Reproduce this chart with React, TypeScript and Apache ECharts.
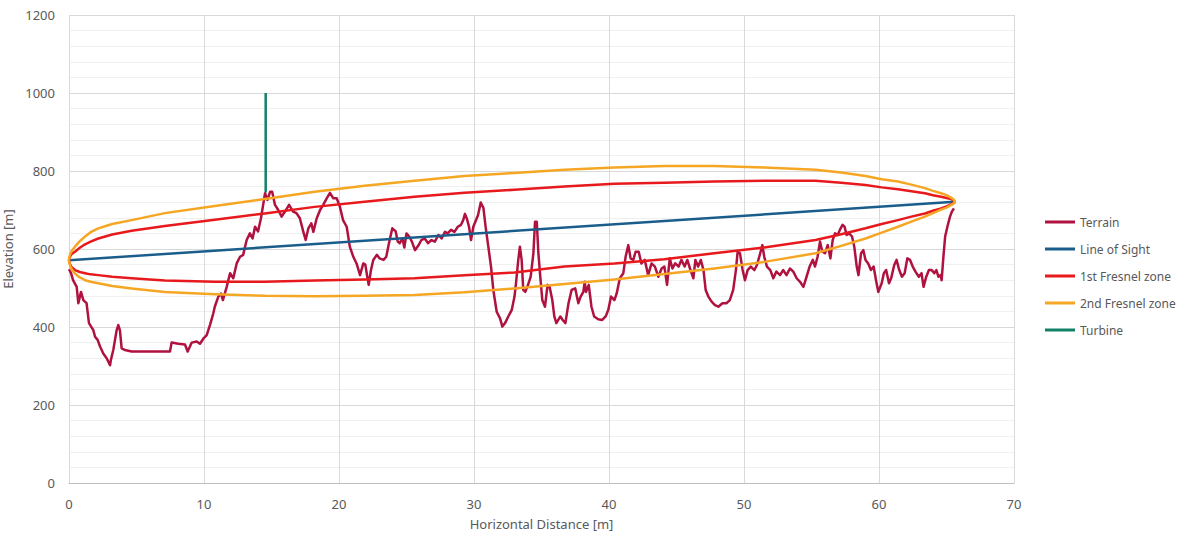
import React, { useEffect, useRef } from "react";
import * as echarts from "echarts";

// Terrain profile (distance, elevation)
const terrainX = [
  0, 0.15, 0.3, 0.57, 0.69, 0.89, 1.06, 1.3, 1.48, 1.8, 1.93, 2.12, 2.3, 2.54, 2.79, 3.04, 3.1, 3.28, 3.53, 3.65,
  3.77, 3.9, 4.15, 4.64, 7.48, 7.6, 8.1, 8.59, 8.79, 9.09, 9.46, 9.7, 9.95, 10.2, 10.44, 10.69, 10.8, 11.06, 11.26, 11.4,
  11.68, 11.93, 12.17, 12.42, 12.67, 12.9, 13.16, 13.4, 13.6, 13.78, 14.0, 14.22, 14.4, 14.52, 14.7, 14.9, 15.05, 15.26, 15.5, 15.75,
  16.0, 16.3, 16.6, 16.85, 17.1, 17.36, 17.53, 17.73, 17.95, 18.1, 18.35, 18.6, 18.83, 19.09, 19.33, 19.58, 19.83, 20.07, 20.3, 20.57,
  20.8, 21.06, 21.3, 21.56, 21.8, 21.95, 22.05, 22.2, 22.37, 22.54, 22.8, 23.0, 23.3, 23.5, 23.7, 23.95, 24.2, 24.35, 24.5, 24.7,
  24.84, 25.0, 25.2, 25.4, 25.63, 25.9, 26.1, 26.35, 26.6, 26.85, 27.1, 27.36, 27.6, 27.85, 28.05, 28.3, 28.55, 28.8, 29.04, 29.2,
  29.33, 29.46, 29.63, 29.78, 29.95, 30.1, 30.3, 30.5, 30.7, 30.86, 31.06, 31.26, 31.43, 31.68, 31.93, 32.1, 32.3, 32.54, 32.8, 33.0,
  33.12, 33.28, 33.4, 33.53, 33.65, 33.8, 34.0, 34.2, 34.4, 34.52, 34.65, 34.77, 34.9, 35.06, 35.26, 35.45, 35.6, 35.8, 35.95, 36.1,
  36.4, 36.57, 36.77, 37.0, 37.23, 37.5, 37.73, 37.9, 38.1, 38.2, 38.3, 38.5, 38.7, 38.9, 39.2, 39.5, 39.75, 39.95, 40.15, 40.4,
  40.57, 40.8, 41.06, 41.23, 41.43, 41.6, 41.8, 41.97, 42.2, 42.4, 42.65, 42.9, 43.15, 43.4, 43.65, 43.9, 44.1, 44.3, 44.5, 44.7,
  44.9, 45.16, 45.36, 45.6, 45.8, 46.0, 46.25, 46.4, 46.6, 46.8, 47.0, 47.16, 47.36, 47.6, 47.85, 48.1, 48.4, 48.7, 48.95, 49.2,
  49.4, 49.53, 49.7, 49.9, 50.07, 50.27, 50.5, 50.77, 50.96, 51.2, 51.36, 51.5, 51.7, 51.95, 52.17, 52.4, 52.67, 52.9, 53.15, 53.4,
  53.65, 53.9, 54.15, 54.4, 54.6, 54.86, 55.1, 55.26, 55.45, 55.63, 55.8, 56.0, 56.2, 56.4, 56.57, 56.74, 56.95, 57.1, 57.3, 57.45,
  57.6, 57.8, 58.0, 58.17, 58.35, 58.48, 58.67, 58.84, 59.0, 59.2, 59.4, 59.6, 59.8, 59.95, 60.2, 60.36, 60.53, 60.74, 60.9, 61.13,
  61.3, 61.5, 61.7, 61.9, 62.1, 62.3, 62.5, 62.7, 62.95, 63.15, 63.3, 63.5, 63.7, 63.9, 64.1, 64.25, 64.4, 64.57, 64.64, 64.77,
  64.9, 65.1, 65.26, 65.4, 65.55,
];
const terrainY = [
  548, 538, 520, 503, 461, 490, 469, 461, 410, 392, 375, 367, 350, 332, 320, 302, 315, 341, 392, 405,
  392, 345, 341, 337, 337, 360, 357, 355, 337, 360, 363, 357, 370, 379, 405, 435, 452, 478, 486, 469,
  503, 538, 525, 563, 580, 585, 623, 640, 627, 657, 645, 679, 717, 743, 726, 747, 747, 713, 700, 683,
  696, 713, 696, 692, 679, 644, 623, 653, 666, 644, 679, 700, 713, 730, 744, 730, 730, 708, 674, 657,
  606, 580, 563, 533, 563, 560, 538, 508, 546, 572, 585, 576, 572, 580, 615, 653, 645, 619, 615, 627,
  604, 640, 632, 619, 597, 610, 623, 627, 615, 623, 619, 636, 627, 644, 640, 649, 644, 657, 662, 674,
  690, 679, 657, 623, 657, 670, 687, 719, 705, 657, 606, 555, 495, 439, 422, 401, 410, 427, 444, 478,
  515, 572, 606, 572, 495, 490, 508, 529, 589, 670, 670, 589, 533, 469, 452, 508, 503, 469, 427, 410,
  427, 418, 410, 461, 495, 499, 461, 478, 490, 516, 490, 508, 452, 427, 420, 418, 427, 444, 478, 469,
  486, 525, 538, 580, 610, 576, 572, 593, 593, 563, 572, 533, 563, 555, 529, 550, 555, 508, 576, 550,
  563, 555, 572, 555, 572, 550, 525, 572, 555, 572, 546, 495, 478, 465, 456, 452, 461, 461, 469, 495,
  546, 593, 589, 546, 520, 546, 555, 546, 559, 589, 610, 580, 555, 546, 525, 542, 533, 546, 533, 550,
  542, 525, 516, 503, 525, 555, 572, 555, 580, 619, 593, 589, 610, 576, 623, 640, 636, 649, 662, 657,
  636, 640, 632, 606, 555, 533, 589, 597, 572, 563, 546, 555, 516, 490, 512, 538, 546, 512, 525, 559,
  572, 546, 529, 538, 576, 572, 555, 542, 529, 538, 503, 529, 546, 546, 538, 546, 529, 533, 520, 580,
  632, 662, 683, 696, 704,
];

// Line of sight end points
const losX = [0, 65.6];
const losY = [571, 721];

// Fresnel zone envelopes
const fresnelX = [
  0, 0.02, 0.1, 0.2, 0.44, 0.8, 1.19, 1.6, 2.17, 3.2, 4.64, 7.1, 10.8, 14.5, 18.2, 21.9, 25.6, 29.3, 33.0, 36.7,
  40.4, 44.1, 47.8, 51.5, 55.3, 57.2, 59.0, 60.2, 61.4, 62.4, 63.4, 64.0, 64.6, 65.0, 65.26, 65.45, 65.57, 65.6,
];
const fresnel1Upper = [
  571, 576, 582, 587, 593, 603, 612, 619, 627, 637, 647, 659, 675, 691, 708, 721, 734, 744, 752, 760,
  767, 770, 773, 775, 775, 770, 764, 758, 753, 748, 743, 738, 734, 731, 729, 726, 723, 721,
];
const fresnel1Lower = [
  571, 566, 559, 553, 546, 541, 538, 535, 533, 529, 525, 519, 516, 516, 519, 522, 525, 533, 540, 555,
  563, 574, 589, 604, 623, 638, 653, 664, 674, 683, 691, 698, 704, 709, 713, 716, 719, 721,
];
const fresnel2Upper = [
  571, 578, 588, 595, 606, 620, 632, 643, 653, 664, 674, 692, 710, 728, 747, 762, 775, 787, 795, 803,
  809, 813, 813, 809, 803, 796, 787, 779, 773, 765, 756, 749, 743, 738, 733, 729, 725, 721,
];
const fresnel2Lower = [
  571, 565, 556, 548, 537, 527, 520, 516, 512, 505, 499, 490, 484, 480, 479, 480, 482, 489, 499, 510,
  522, 536, 550, 567, 589, 608, 627, 642, 657, 670, 683, 692, 701, 706, 711, 715, 718, 721,
];

// Turbine mast
const turbineX = [14.57, 14.57];
const turbineY = [745, 1000];

const seriesNames = ["Terrain", "Line of Sight", "1st Fresnel zone", "2nd Fresnel zone", "Turbine"];

const pairs = (xs: number[], ys: number[]) => xs.map((x, i) => [x, ys[i]]);
const loop = (xs: number[], up: number[], low: number[]) => [
  ...pairs(xs, up),
  ...pairs(xs, low).reverse(),
];

export default function App() {
  const ref = useRef<HTMLDivElement>(null);
  useEffect(() => {
    if (!ref.current) return;
    const chart = echarts.init(ref.current, null, { renderer: "svg" });
    const font = "'Noto Sans', 'Open Sans', sans-serif";
    const txt = "#595959";
    const lineSeries = (name: string, data: number[][], color: string, z: number) => ({
      name,
      type: "line",
      data,
      showSymbol: false,
      symbol: "none",
      lineStyle: { color, width: 2.5, join: "round" },
      itemStyle: { color },
      z,
    });
    chart.setOption({
      animation: false,
      backgroundColor: "#ffffff",
      textStyle: { fontFamily: font },
      grid: { left: 69, right: 173, top: 15, bottom: 58, containLabel: false, outerBoundsMode: "none" },
      legend: {
        orient: "vertical",
        left: 1040,
        top: 210,
        icon: "rect",
        itemWidth: 30,
        itemHeight: 3,
        itemGap: 13,
        textStyle: { color: txt, fontSize: 12, fontFamily: font, lineHeight: 14, height: 14 },
        data: seriesNames,
      },
      xAxis: {
        type: "value",
        min: 0,
        max: 70,
        interval: 10,
        name: "Horizontal Distance [m]",
        nameLocation: "middle",
        nameGap: 34,
        nameTextStyle: { color: txt, fontSize: 13, fontFamily: font },
        axisLine: { show: true, lineStyle: { color: "#bfbfbf", width: 1 } },
        axisTick: { show: false },
        axisLabel: { color: txt, fontSize: 13, margin: 14, fontFamily: font, formatter: (v: number) => String(v) },
        splitLine: { show: true, lineStyle: { color: "#d9d9d9", width: 1 } },
      },
      yAxis: {
        type: "value",
        min: 0,
        max: 1200,
        interval: 200,
        name: "Elevation [m]",
        nameLocation: "middle",
        nameGap: 48,
        nameTextStyle: { color: txt, fontSize: 13, fontFamily: font },
        axisLine: { show: false },
        axisTick: { show: false },
        axisLabel: { color: txt, fontSize: 13, margin: 14, fontFamily: font, formatter: (v: number) => String(v) },
        splitLine: { show: true, lineStyle: { color: "#d9d9d9", width: 1 } },
        minorTick: { show: false, splitNumber: 5 },
        minorSplitLine: { show: true, lineStyle: { color: "#f0f0f0", width: 1 } },
      },
      series: [
        lineSeries("Terrain", pairs(terrainX, terrainY), "#b0123f", 2),
        lineSeries("Line of Sight", pairs(losX, losY), "#1a5d8a", 3),
        lineSeries("1st Fresnel zone", loop(fresnelX, fresnel1Upper, fresnel1Lower), "#e8191c", 4),
        lineSeries("2nd Fresnel zone", loop(fresnelX, fresnel2Upper, fresnel2Lower), "#f5a623", 5),
        lineSeries("Turbine", pairs(turbineX, turbineY), "#138068", 6),
      ],
    });
    return () => chart.dispose();
  }, []);
  return <div ref={ref} style={{ width: 1187, height: 541, position: "absolute", left: 0, top: 0 }} />;
}
